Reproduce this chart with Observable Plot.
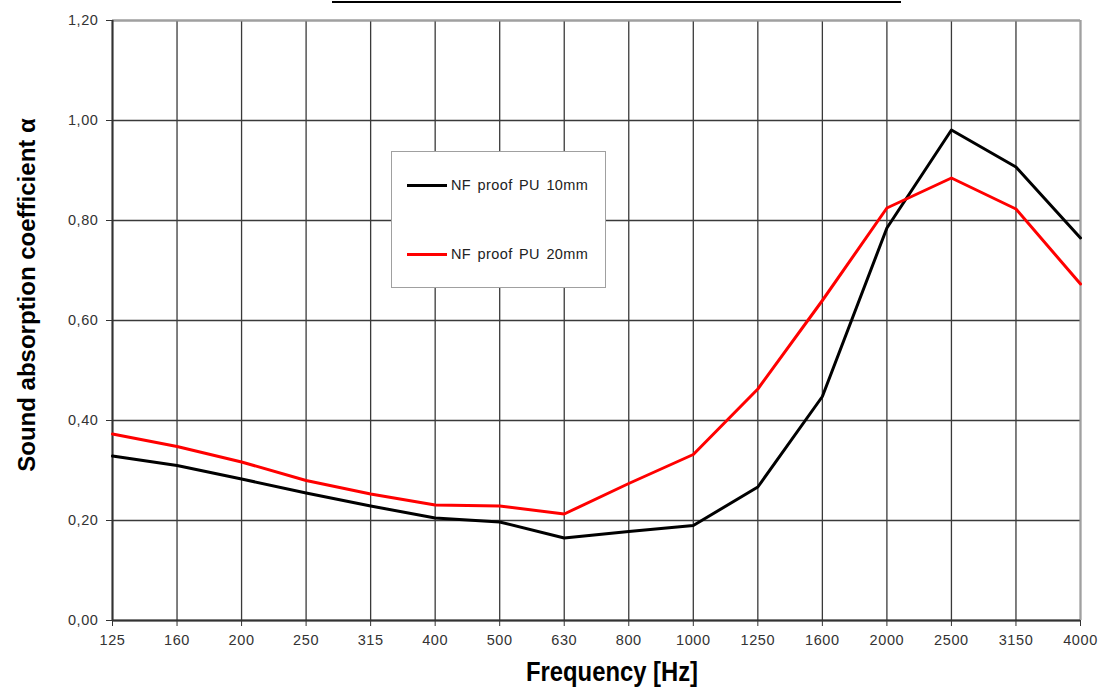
<!DOCTYPE html>
<html>
<head>
<meta charset="utf-8">
<script src="https://cdn.jsdelivr.net/npm/d3@7"></script>
<script src="https://cdn.jsdelivr.net/npm/@observablehq/plot@0.6"></script>
<style>
  body { margin: 0; background: #fff; }
  #wrap { position: relative; width: 1098px; height: 688px; overflow: hidden; font-family: Arial, "Liberation Sans", sans-serif; }
  #wrap svg { position: absolute; left: 0; top: 0; }
  #wrap svg g[aria-label$="tick label"] text { letter-spacing: 0.6px; }
  #topline { position: absolute; left: 332px; top: 1px; width: 569px; height: 0; border-top: 2px solid #000; }
  #legend { position: absolute; left: 391px; top: 151px; width: 215px; height: 137px; border: 1.5px solid #a0a0a0; background: #fff; box-sizing: border-box; }
  .item { position: absolute; left: 15px; height: 18px; display: flex; align-items: center; font-size: 14.5px; letter-spacing: 0.4px; word-spacing: 2px; color: #222; white-space: nowrap; }
  .swatch { width: 40px; height: 3px; margin-right: 4px; }
</style>
</head>
<body>
<div id="wrap">
  <div id="topline"></div>
</div>
<script>
const frequencies = ["125","160","200","250","315","400","500","630","800","1000","1250","1600","2000","2500","3150","4000"];
const pu10 = [0.329,0.310,0.283,0.255,0.229,0.205,0.197,0.165,0.178,0.190,0.267,0.448,0.785,0.981,0.907,0.765];
const pu20 = [0.373,0.348,0.317,0.280,0.253,0.231,0.229,0.213,0.274,0.332,0.463,0.640,0.825,0.885,0.823,0.673];
const seriesNames = ["NF proof PU 10mm","NF proof PU 20mm"];
const seriesColors = ["#000000","#ff0000"];
const yTicks = [0,0.2,0.4,0.6,0.8,1.0,1.2];
const xTitle = "Frequency [Hz]";
const yTitle = "Sound absorption coefficient α";

const data = [];
frequencies.forEach((f,i) => {
  data.push({freq: f, value: pu10[i], series: seriesNames[0]});
  data.push({freq: f, value: pu20[i], series: seriesNames[1]});
});

const fmt = d => d3.format(".2f")(d).replace(".", ",");
const gridColor = "#3a3a3a";

const chart = Plot.plot({
  width: 1098,
  height: 688,
  marginLeft: 112,
  marginRight: 18,
  marginTop: 20,
  marginBottom: 68,
  style: { fontFamily: "Arial, 'Liberation Sans', sans-serif", fontSize: "14.5px", color: "#333", background: "transparent" },
  x: { type: "point", domain: frequencies, padding: 0, round: false },
  y: { domain: [0, 1.2] },
  color: { domain: seriesNames, range: seriesColors },
  marks: [
    Plot.ruleX(frequencies, { x: d => d, stroke: gridColor, strokeWidth: 1.3 }),
    Plot.ruleY(yTicks, { y: d => d, stroke: gridColor, strokeWidth: 1.3 }),
    Plot.ruleY([1.2], { y: d => d, stroke: "#a0a0a0", strokeWidth: 2 }),
    Plot.ruleX([frequencies[frequencies.length - 1]], { x: d => d, stroke: "#a0a0a0", strokeWidth: 2 }),
    Plot.ruleX([frequencies[0]], { x: d => d, stroke: "#333", strokeWidth: 2 }),
    Plot.ruleY([0], { y: d => d, stroke: "#333", strokeWidth: 2 }),
    Plot.axisX({ tickSize: 6, tickPadding: 8, label: null, stroke: "#333", fill: "#333" }),
    Plot.axisY({ ticks: yTicks, tickFormat: fmt, tickSize: 6, tickPadding: 8, label: null, stroke: "#333", fill: "#333" }),
    Plot.line(data, { x: "freq", y: "value", z: "series", stroke: "series", strokeWidth: 3 })
  ]
});

const svg = d3.select(chart);
svg.append("text")
  .attr("transform", "translate(35,295) rotate(-90)")
  .attr("text-anchor", "middle")
  .attr("font-family", "Arial, 'Liberation Sans', sans-serif")
  .attr("font-weight", "bold")
  .attr("font-size", 24)
  .attr("fill", "#000")
  .text(yTitle);
svg.append("text")
  .attr("x", 526)
  .attr("y", 681)
  .attr("text-anchor", "start")
  .attr("textLength", 172)
  .attr("lengthAdjust", "spacingAndGlyphs")
  .attr("font-family", "Arial, 'Liberation Sans', sans-serif")
  .attr("font-weight", "bold")
  .attr("font-size", 28)
  .attr("fill", "#000")
  .text(xTitle);

const wrap = document.getElementById("wrap");
wrap.insertBefore(chart, wrap.firstChild);

const legend = document.createElement("div");
legend.id = "legend";
seriesNames.forEach((name, i) => {
  const item = document.createElement("div");
  item.className = "item";
  item.style.top = (i === 0 ? 24 : 93) + "px";
  const sw = document.createElement("div");
  sw.className = "swatch";
  sw.style.background = seriesColors[i];
  const label = document.createElement("span");
  label.textContent = name;
  item.appendChild(sw);
  item.appendChild(label);
  legend.appendChild(item);
});
wrap.appendChild(legend);
</script>
</body>
</html>
